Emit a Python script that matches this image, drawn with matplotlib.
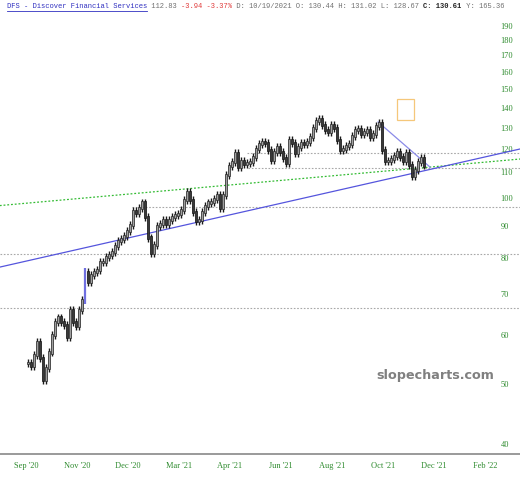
import numpy as np
import matplotlib
matplotlib.use('Agg')
import matplotlib.pyplot as plt
from matplotlib.lines import Line2D
from matplotlib.patches import Rectangle
from matplotlib.ticker import NullLocator

# DFS closes, one sample every ~3 trading days
closes = [
    54.1, 53.5, 55.7, 58.5, 55.1, 50.8, 53.1, 56.3, 60.0, 63.0,
    64.0, 63.0, 62.3, 59.6, 65.9, 63.0, 62.1, 65.9, 68.4, 75.9,
    73.1, 75.1, 75.9, 76.5, 78.8, 78.8, 80.3, 80.9, 81.8, 83.6,
    85.2, 85.8, 86.8, 88.4, 90.4, 95.3, 94.6, 96.3, 98.2, 93.2,
    86.2, 81.5, 83.9, 90.1, 90.8, 92.1, 90.8, 92.1, 93.2, 93.9,
    94.2, 95.6, 99.3, 102.2, 99.3, 94.9, 91.8, 92.1, 94.9, 97.1,
    98.2, 98.5, 99.6, 101.1, 96.3, 101.1, 108.9, 112.6, 114.3, 118.2,
    112.2, 114.8, 113.5, 113.9, 114.3, 116.5, 120.0, 122.3, 123.2, 122.7,
    119.6, 115.2, 118.7, 120.9, 118.7, 116.1, 113.9, 124.1, 122.7, 118.2,
    120.9, 122.7, 122.3, 123.2, 125.5, 129.8, 133.2, 134.2, 131.2, 128.8,
    127.9, 131.2, 129.8, 124.1, 119.6, 120.0, 121.4, 122.3, 126.0, 128.8,
    129.3, 126.9, 127.9, 128.8, 125.5, 126.9, 130.7, 132.2, 119.6, 114.8,
    114.8, 115.6, 116.9, 118.7, 116.5, 114.8, 118.2, 113.1, 108.5, 111.0,
    114.3, 116.1, 112.8,
]
month_labels = ["Sep '20", "Nov '20", "Dec '20", "Mar '21", "Apr '21",
                "Jun '21", "Aug '21", "Oct '21", "Dec '21", "Feb '22"]
price_ticks = list(range(40, 200, 10))

# drawn objects (bar index, price)
level_prices = [118.2, 111.8, 96.7, 81.2, 66.4]
level_starts = [73.0, 73.3, 34.7, -9.4, -9.4]
green_trend = ([-9.4, 164.0], [97.2, 115.6])
blue_trend = ([-9.4, 164.0], [77.3, 120.0])
down_trend = ([116.7, 134.0], [132.7, 112.2])
box_x, box_lo, box_hi = (123.0, 128.7), 133.7, 144.6

W, H = 520, 480
fig = plt.figure(figsize=(W / 100, H / 100), dpi=100, facecolor='white')
ax = fig.add_axes([0, 26 / H, 1, 454 / H])
ax.set_yscale('log')
ax.set_xlim(-9.33, 164)
ax.set_ylim(38.54, 209)

idx = np.arange(len(closes))
c = np.array(closes)
o = np.r_[c[0], c[:-1]]
wick = 0.014
hi = np.maximum(o, c) * (1 + wick)
lo = np.minimum(o, c) * (1 - wick)
big = np.abs(c - o) / o > 0.108  # the gap bar is drawn blue
up = c >= o

# levels and trendlines
for p, s in zip(level_prices, level_starts):
    ax.plot([s, 164], [p, p], color='#a8a8a8', lw=0.8, ls=(0, (1.5, 1.5)), zorder=1)
ax.plot(*green_trend, color='#33bb33', lw=0.9, ls=(0, (1.5, 1.5)), zorder=2)
ax.plot(*blue_trend, color='#5555dd', lw=0.9, zorder=2)
ax.plot(*down_trend, color='#8a8ae8', lw=0.9, zorder=2)
ax.add_patch(Rectangle((box_x[0], box_lo), box_x[1] - box_x[0], box_hi - box_lo,
                       fill=False, ec='#f5c77a', lw=0.9, zorder=2))

# candles
ax.vlines(idx[~big], lo[~big], hi[~big], color='#1a1a1a', lw=1.0, zorder=3)
ax.vlines(idx[big], lo[big], hi[big], color='#6f6fe0', lw=1.6, zorder=3)
body_lo = np.minimum(o, c) * 0.995
body_hi = np.maximum(o, c) * 1.005
ax.bar(idx[up & ~big], (body_hi - body_lo)[up & ~big], bottom=body_lo[up & ~big],
       width=0.85, color='#a0a0a0', edgecolor='#222222', lw=0.5, zorder=4)
ax.bar(idx[~up], (body_hi - body_lo)[~up], bottom=body_lo[~up],
       width=0.85, color='#3a3a3a', edgecolor='#111111', lw=0.5, zorder=4)

# axes styling
for side in ['top', 'left', 'right']:
    ax.spines[side].set_visible(False)
ax.spines['bottom'].set_color('#9a9a9a')
ax.spines['bottom'].set_linewidth(1.4)
ax.yaxis.set_minor_locator(NullLocator())
ax.set_yticks(price_ticks)
ax.set_yticklabels([str(t) for t in price_ticks])
ax.yaxis.tick_right()
ax.tick_params(axis='y', length=0, pad=-14, labelsize=6, labelcolor='#2e8b2e')
ax.set_xticks(np.arange(len(month_labels)) * 17 - 0.67)
ax.set_xticklabels(month_labels)
ax.tick_params(axis='x', length=0, pad=6, labelsize=6, labelcolor='#2e8b2e')
for lab in ax.get_xticklabels() + ax.get_yticklabels():
    lab.set_family('Liberation Serif')

# header line, monospace pieces laid out by character count
pieces = [
    ("DFS - Discover Financial Services", '#3030c0', 'normal'),
    (" 112.83 ", '#707070', 'normal'),
    ("-3.94 -3.37%", '#e03a3a', 'normal'),
    (" D: 10/19/2021 O: 130.44 H: 131.02 L: 128.67 ", '#707070', 'normal'),
    ("C: 130.61", '#222222', 'bold'),
    (" Y: 165.36", '#707070', 'normal'),
]
fs = 5.1
cw = fs * 100 / 72 * 0.6
x = 7
for txt, col, wt in pieces:
    fig.text(x / W, 1 - 7 / H, txt, family='Liberation Mono', fontsize=fs,
             color=col, fontweight=wt, ha='left', va='center')
    x += len(txt) * cw
ul = len(pieces[0][0]) * cw
fig.add_artist(Line2D([7 / W, (7 + ul) / W], [1 - 11 / H, 1 - 11 / H],
                      transform=fig.transFigure, color='#3030c0', lw=0.6))

fig.text(435 / W, 1 - 375 / H, 'slopecharts.com', ha='center', va='center',
         fontsize=9.2, fontweight='bold', color='#808080')

fig.savefig('out.png', dpi=100, facecolor='white')
